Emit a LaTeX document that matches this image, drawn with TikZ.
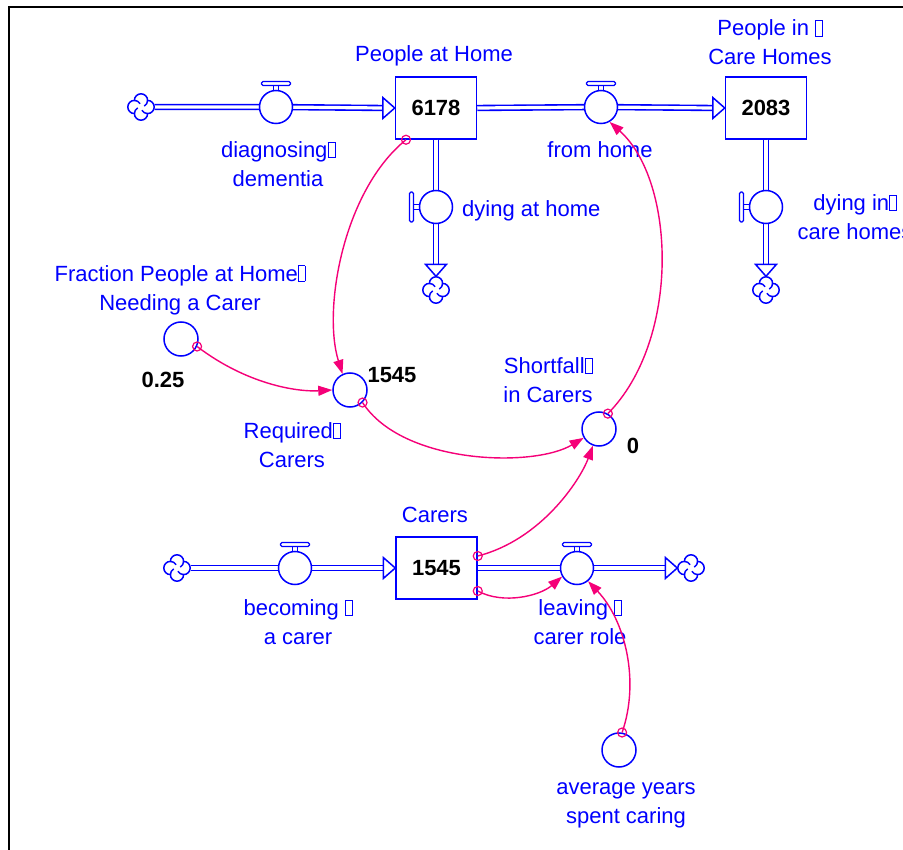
\documentclass[tikz,border=0pt]{standalone}
\usepackage{fontspec}
\setmainfont{Liberation Sans}
\usetikzlibrary{arrows.meta,calc}
\definecolor{vblue}{RGB}{0,0,255}
\definecolor{vlink}{RGB}{245,0,120}
% placeholder glyph box used inside multi-line names
\newcommand\ndbox{{\setlength{\fboxsep}{0pt}\setlength{\fboxrule}{0.4pt}\fbox{\rule{0pt}{0.7em}\rule{0.3em}{0pt}}}}

\begin{document}
\begin{tikzpicture}[x=1pt,y=-1pt,
  every node/.style={font=\fontsize{22}{29}\selectfont},
  lbl/.style={text=vblue, align=center, inner sep=0pt},
  val/.style={font=\fontsize{22}{29}\selectfont\bfseries, text=black, inner sep=0pt},
  stock/.style={draw=vblue, line width=1.5pt, fill=white, minimum width=81pt,
    minimum height=62pt, inner sep=0pt, font=\fontsize{22}{29}\selectfont\bfseries},
  aux/.style={circle, draw=vblue, line width=1.5pt, minimum size=34pt, inner sep=0pt},
  valve/.style={circle, draw=vblue, line width=1.5pt, fill=white, minimum size=33pt, inner sep=0pt},
  sink/.style={circle, minimum size=27pt, inner sep=0pt},
  pipe/.style={draw=vblue, line width=1.6pt, double=white, double distance=3.2pt},
  link/.style={draw=vlink, line width=1.4pt, -{Triangle[length=14pt,width=10pt]}},
  linkstart/.style={circle, draw=vlink, line width=1.2pt, minimum size=9pt, inner sep=0pt},
  pics/cloud/.style={code={
    \begin{scope}[y=1pt]
      \draw[vblue, line width=1.5pt, fill=white]
        (-6.6,6.6) arc[start angle=180, end angle=0, radius=6.6]
        arc[start angle=90, end angle=-90, radius=6.6]
        arc[start angle=0, end angle=-180, radius=6.6]
        arc[start angle=-90, end angle=-270, radius=6.6] -- cycle;
      \draw[vblue, line width=1.5pt]
        (6.6,6.6) arc[start angle=0, end angle=-60, radius=6.6]
        (6.6,-6.6) arc[start angle=-90, end angle=-150, radius=6.6]
        (-6.6,-6.6) arc[start angle=180, end angle=120, radius=6.6]
        (-6.6,6.6) arc[start angle=90, end angle=30, radius=6.6];
    \end{scope}}},
  pics/flowhead/.style={code={
    \draw[vblue, line width=1.5pt, fill=white, line join=miter]
      (-12,-10.5) -- (0,0) -- (-12,10.5) -- cycle;}},
  pics/handletop/.style={code={
    \draw[vblue, line width=1.3pt, rounded corners=1.5pt] (-14.5,-25.5) rectangle (14.5,-21.5);
    \draw[vblue, line width=1.3pt] (-2.8,-21.5) -- (-2.8,-16) (2.8,-21.5) -- (2.8,-16);}},
  pics/handleleft/.style={code={
    \draw[vblue, line width=1.3pt, rounded corners=1.5pt] (-26.5,-15) rectangle (-22.5,15);
    \draw[vblue, line width=1.3pt] (-22.5,-2.8) -- (-16,-2.8) (-22.5,2.8) -- (-16,2.8);}}
]
\useasboundingbox (0,0) rectangle (903,850);
\fill[white] (0,0) rectangle (903,850);

% frame
\draw[line width=2.5pt] (9,850) -- (9,7) -- (903,7);

% stocks
\node[stock] (pah) at (436,108) {6178};
\node[stock] (pich) at (766,108) {2083};
\node[stock] (car) at (436.5,568) {1545};

% sources and sinks
\node[sink] (c1) at (141,107) {};
\node[sink] (c2) at (436,290) {};
\node[sink] (c3) at (766,290) {};
\node[sink] (c4) at (177,568) {};
\node[sink] (c5) at (691,568) {};

% valve positions
\coordinate (dvp) at (276,107);
\coordinate (fhp) at (601,107);
\coordinate (dhp) at (436,207);
\coordinate (dcp) at (766,207);
\coordinate (bcp) at (295,568);
\coordinate (lvp) at (577,568);

% pipes
\draw[pipe] (c1.east) -- (dvp) -- ([xshift=-12pt]pah.west);
\draw[pipe] (pah.east) -- (fhp) -- ([xshift=-12pt]pich.west);
\draw[pipe] (pah.south) -- (dhp) -- ([yshift=12pt]c2.north);
\draw[pipe] (pich.south) -- (dcp) -- ([yshift=12pt]c3.north);
\draw[pipe] (c4.east) -- (bcp) -- ([xshift=-12pt]car.west);
\draw[pipe] (car.east) -- (lvp) -- ([xshift=-12pt]c5.west);

% flow heads
\pic at (pah.west) {flowhead};
\pic at (pich.west) {flowhead};
\pic[rotate=-90] at (c2.north) {flowhead};
\pic[rotate=-90] at (c3.north) {flowhead};
\pic at (car.west) {flowhead};
\pic at (c5.west) {flowhead};

% clouds
\pic at (c1) {cloud};
\pic at (c2) {cloud};
\pic at (c3) {cloud};
\pic at (c4) {cloud};
\pic at (c5) {cloud};

% valves
\node[valve] (dv) at (dvp) {};
\node[valve] (fh) at (fhp) {};
\node[valve] (dh) at (dhp) {};
\node[valve] (dc) at (dcp) {};
\node[valve] (bc) at (bcp) {};
\node[valve] (lv) at (lvp) {};
\pic at (dv) {handletop};
\pic at (fh) {handletop};
\pic at (bc) {handletop};
\pic at (lv) {handletop};
\pic at (dh) {handleleft};
\pic at (dc) {handleleft};

% auxiliaries
\node[aux] (frac) at (181,339) {};
\node[aux] (req) at (350,390) {};
\node[aux] (sf) at (599,429) {};
\node[aux] (avg) at (619,750) {};

% names
\node[lbl] (lpah) at (434,56) {People at Home};
\node[lbl] (lpich) at (770,42.5) {People in \ndbox\\Care Homes};
\node[lbl] (ldv) at (278,164) {diagnosing\ndbox\\dementia};
\node[lbl] (lfh) at (600,150) {from home};
\node[lbl, anchor=west] (ldh) at (462,211) {dying at home};
\node[lbl] (ldc) at (855,217) {dying in\ndbox\\care homes};
\node[lbl] (lfrac) at (180,290) {Fraction People at Home\ndbox\\Needing a Carer};
\node[lbl] (lreq) at (292,445) {Required\ndbox\\Carers};
\node[lbl] (lsf) at (548,380) {Shortfall\ndbox\\in Carers};
\node[lbl] (lcar) at (435,515) {Carers};
\node[lbl] (lbc) at (298,622) {becoming \ndbox\\a carer};
\node[lbl] (llv) at (580,622) {leaving \ndbox\\carer role};
\node[lbl] (lavg) at (626,805) {average years\\spent caring};

% current values
\node[val] (vfrac) at (163,380) {0.25};
\node[val] (vreq) at (392,375) {1545};
\node[val] (vsf) at (633,446) {0};

% information links, each with its open circle at the source end
\draw[link] ([xshift=-30pt]pah.south) node[linkstart] {} .. controls +(-63,51) and +(-20,-64) .. (req.115);
\draw[link] (frac.-25) node[linkstart] {} .. controls +(50,38) and +(-35,2) .. (req.west);
\draw[link] (req.-45) node[linkstart] {} .. controls +(40,62) and +(-50,30) .. (sf.210);
\draw[link] (sf.60) node[linkstart] {} .. controls +(73,-74) and +(66,59) .. (fh.-60);
\draw[link] ([yshift=12pt]car.east) node[linkstart] {} .. controls +(63,-16) and +(-13,35) .. (sf.-110);
\draw[link] ([yshift=-23pt]car.east) node[linkstart] {} .. controls +(26,14) and +(-22,19) .. (lv.210);
\draw[link] (avg.80) node[linkstart] {} .. controls +(18,-52) and +(37,39) .. (lv.-50);
\end{tikzpicture}
\end{document}
